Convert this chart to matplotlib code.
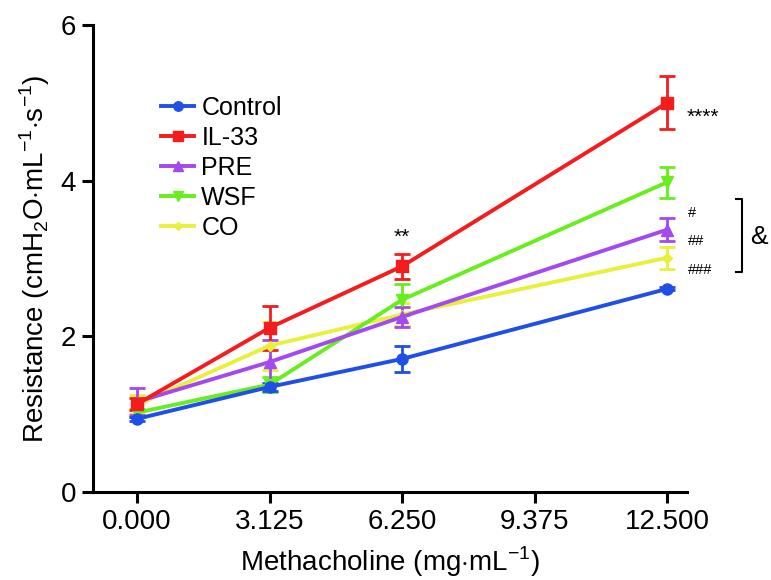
import matplotlib
matplotlib.use("Agg")
import matplotlib.pyplot as plt
from matplotlib.lines import Line2D

plt.rcParams['font.family'] = ['Liberation Sans', 'DejaVu Sans']
plt.rcParams['mathtext.fontset'] = 'custom'
plt.rcParams['mathtext.rm'] = 'Liberation Sans'

doses = [0.000, 3.125, 6.250, 9.375, 12.500]
x = [0.000, 3.125, 6.250, 12.500]
tick_labels = ["0.000", "3.125", "6.250", "9.375", "12.500"]

control = [0.94, 1.35, 1.71, 2.61]
control_err = [0.03, 0.05, 0.17, 0.02]
il33 = [1.13, 2.11, 2.90, 5.00]
il33_err = [0.08, 0.28, 0.16, 0.34]
pre = [1.16, 1.67, 2.25, 3.37]
pre_err = [0.17, 0.28, 0.13, 0.15]
wsf = [1.02, 1.38, 2.47, 3.98]
wsf_err = [0.05, 0.10, 0.20, 0.20]
co = [1.12, 1.88, 2.28, 3.01]
co_err = [0.12, 0.31, 0.15, 0.14]

series = [
    ("Control", control, control_err, "#1f4fe6", "o", 8),
    ("IL-33", il33, il33_err, "#f41c1c", "s", 8),
    ("PRE", pre, pre_err, "#a448f0", "^", 8),
    ("WSF", wsf, wsf_err, "#68ee1e", "v", 8),
    ("CO", co, co_err, "#e8f03c", "D", 5),
]

fig = plt.figure(figsize=(7.71, 5.80), dpi=100)
ax = fig.add_axes([0.1206, 0.1517, 0.7704, 0.8052])

for name, y, e, c, m, ms in reversed(series):
    ax.errorbar(x, y, yerr=e, color=c, marker=m, markersize=ms, linewidth=2.8,
                elinewidth=2.0, capsize=6, capthick=2.0, zorder=3)

handles = [Line2D([], [], color=c, marker=m, markersize=ms * 0.85, linewidth=2.8)
           for name, y, e, c, m, ms in series]
labels = [s[0] for s in series]
ax.legend(handles, labels, loc='upper left', bbox_to_anchor=(0.115, 0.849),
          frameon=False, fontsize=18, handlelength=1.3, handletextpad=0.3,
          labelspacing=0.24, borderaxespad=0, borderpad=0)

ax.set_xlim(-1.04, 12.97)
ax.set_ylim(0, 6)
ax.set_xticks(doses)
ax.set_xticklabels(tick_labels)
ax.set_yticks([0, 2, 4, 6])
ax.spines['top'].set_visible(False)
ax.spines['right'].set_visible(False)
for s in ['left', 'bottom']:
    ax.spines[s].set_linewidth(2.2)
ax.tick_params(axis='both', which='major', direction='out', length=8, width=2.2,
               labelsize=20, pad=4)

ax.set_xlabel(r"Methacholine (mg$\cdot$mL$^{-1}$)", fontsize=20, labelpad=7)
ax.set_ylabel(r"Resistance (cmH$_2$O$\cdot$mL$^{-1}$$\cdot$s$^{-1}$)", fontsize=20, labelpad=6)

# significance annotations
ax.text(6.25, 3.27, "**", ha='center', va='center', fontsize=15)
ax.text(12.97, 4.82, "****", ha='left', va='center', fontsize=15, clip_on=False)
ax.text(13.0, 3.59, "#", ha='left', va='center', fontsize=10.5, clip_on=False)
ax.text(13.0, 3.22, "##", ha='left', va='center', fontsize=10.5, clip_on=False)
ax.text(13.0, 2.85, "###", ha='left', va='center', fontsize=10.5, clip_on=False)
bx0, bx1 = 14.12, 14.27
ax.plot([bx0, bx1, bx1, bx0], [3.77, 3.77, 2.83, 2.83], color='black', lw=1.5, clip_on=False)
ax.text(14.45, 3.28, "&", ha='left', va='center', fontsize=19, clip_on=False)

fig.savefig("out.png", dpi=100)
